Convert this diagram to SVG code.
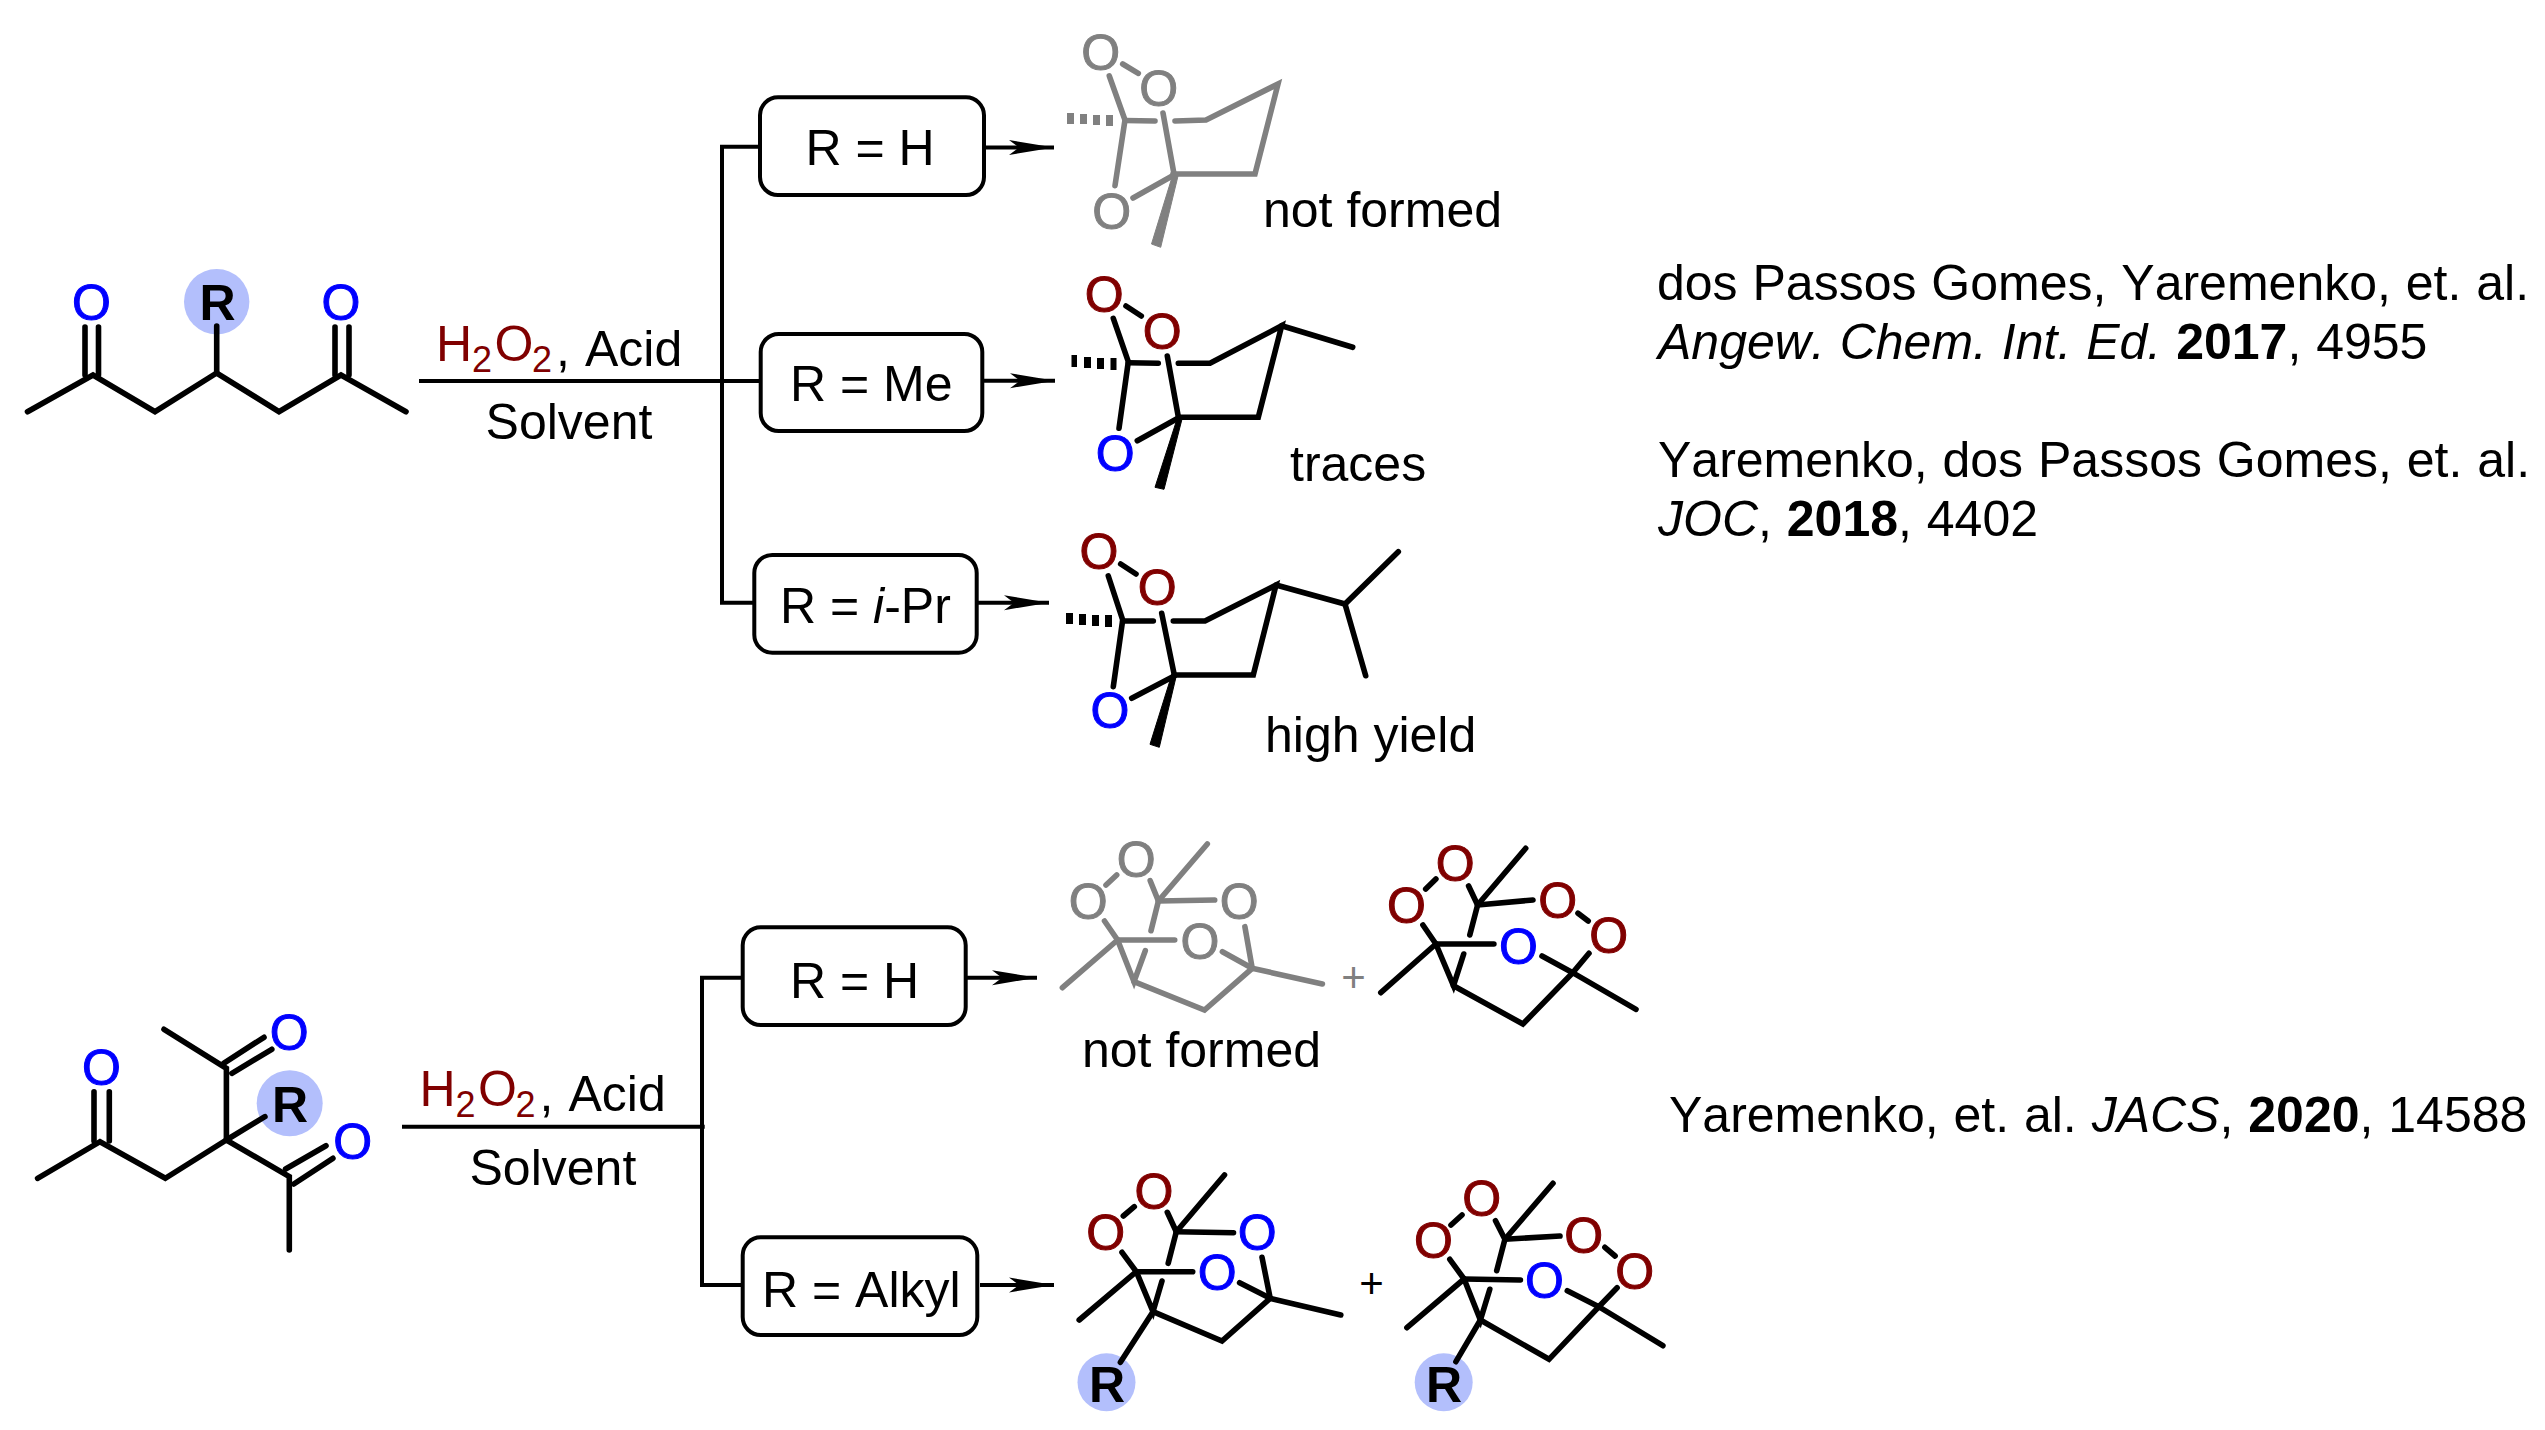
<svg xmlns="http://www.w3.org/2000/svg" width="2545" height="1430" viewBox="0 0 2545 1430">
<style>
text{font-family:"Liberation Sans",Arial,sans-serif;font-size:50px;fill:#000;font-kerning:none}
.bk line,.bk polyline,.gr line,.gr polyline{fill:none;stroke-width:5.6;stroke-linecap:round;stroke-linejoin:miter}
.bk line,.bk polyline{stroke:#000}
.gr line,.gr polyline{stroke:#808080}
.bk polygon,.bk rect{fill:#000}
.gr polygon,.gr rect{fill:#808080}
.bk polygon{stroke:#000;stroke-width:1}
.gr polygon{stroke:#808080;stroke-width:1}
.O{text-anchor:middle;stroke-width:1}
.blue{fill:#0000ff;stroke:#0000ff}
.red{fill:#800000;stroke:#800000}
.gy{fill:#808080;stroke:#808080}
.R{text-anchor:middle;font-weight:700}
.halo{fill:#b3bffc}
.sub{font-size:36px}
.dr{fill:#800000}
.box{fill:#fff;stroke:#000;stroke-width:4}
.wire{fill:none;stroke:#000;stroke-width:4}
.c{text-anchor:middle}
#citations text{word-spacing:1px}
</style>
<defs>
<marker id="head" markerUnits="userSpaceOnUse" markerWidth="46" markerHeight="16" refX="45" refY="8" orient="auto">
<path d="M0 0.5L45 8L0 15.5L10 8Z" fill="#000"/>
</marker>
</defs>

<g id="connectors">
<path class="wire" d="M419 381H722"/>
<path class="wire" d="M760 146.700H722V602.700H755"/>
<path class="wire" d="M722 381H761"/>
<path class="wire" marker-end="url(#head)" d="M984 147.500H1054"/>
<path class="wire" marker-end="url(#head)" d="M983 380.700H1055"/>
<path class="wire" marker-end="url(#head)" d="M978 602.700H1049"/>
<path class="wire" d="M402 1126.700H704.700"/>
<path class="wire" d="M743 977.700H702V1285H743"/>
<path class="wire" marker-end="url(#head)" d="M967 977.700H1037"/>
<path class="wire" marker-end="url(#head)" d="M980 1285H1054"/>
</g>

<g id="substrate1" class="bk">
<circle class="halo" cx="216.700" cy="301.700" r="32.700"/>
<polyline points="27.500,411.700 93,375 155,411.700 216.700,373 279,411.700 341,375 406,411.700"/>
<line x1="85" y1="327" x2="85" y2="375"/><line x1="98.500" y1="327" x2="98.500" y2="375"/>
<line x1="335" y1="327" x2="335" y2="375"/><line x1="349" y1="327" x2="349" y2="375"/>
<line x1="216.700" y1="373" x2="216.700" y2="326"/>
<text class="O blue" x="91.500" y="320.300">O</text>
<text class="O blue" x="341" y="320.300">O</text>
<text class="R" x="217.500" y="319.500">R</text>
</g>

<g id="reagents1">
<text y="360.700"><tspan class="dr" x="436">H</tspan><tspan class="sub dr" x="472" dy="11">2</tspan><tspan class="dr" x="494.500" dy="-11">O</tspan><tspan class="sub dr" x="532" dy="11">2</tspan><tspan x="556" dy="-6">, </tspan><tspan x="585">Acid</tspan></text>
<text x="485.600" y="439">Solvent</text>
</g>

<g id="box-r-h-1"><rect class="box" x="760" y="97.300" width="224" height="97.700" rx="18"/><text x="805.500" y="165">R = H</text></g>
<g id="box-r-me"><rect class="box" x="760.700" y="334" width="221.600" height="97" rx="18"/><text x="790" y="401">R = Me</text></g>
<g id="box-r-ipr"><rect class="box" x="754.300" y="555" width="222.400" height="97.700" rx="18"/><text x="780" y="622.700">R = <tspan font-style="italic">i</tspan>-Pr</text></g>

<g id="product-not-formed-1" class="gr">
<line x1="1122.700" y1="64" x2="1138.300" y2="73.300"/>
<polyline points="1109.300,76 1125,120 1115,185.700"/>
<line x1="1125" y1="120.500" x2="1155" y2="121"/>
<polyline points="1175,121 1206,120 1278,84 1255,174 1173,174"/>
<line x1="1163" y1="113" x2="1174" y2="174"/>
<line x1="1174" y1="175" x2="1133" y2="198"/>
<rect x="1067" y="113" width="7" height="11"/><rect x="1080" y="114" width="7" height="10"/><rect x="1093" y="115" width="7" height="10"/><rect x="1106" y="115" width="7" height="11"/>
<polygon points="1173,174 1178,176 1160.700,247.300 1151.500,244"/>
<text class="O gy" x="1100.700" y="69.700">O</text>
<text class="O gy" x="1158.700" y="106">O</text>
<text class="O gy" x="1111.700" y="228.700">O</text>
</g>
<text id="label-not-formed-1" x="1263" y="227">not formed</text>

<g id="product-traces" class="bk">
<line x1="1126" y1="306" x2="1141.300" y2="316"/>
<polyline points="1113.300,318.300 1128.300,361.700 1119,428.300"/>
<line x1="1128.300" y1="362.700" x2="1158.300" y2="363.300"/>
<polyline points="1178.300,363.300 1210,363.300 1281.700,325.700 1258.300,417.300 1180,417.300"/>
<line x1="1281.700" y1="325.700" x2="1352.700" y2="347.300"/>
<line x1="1167.300" y1="356" x2="1178.300" y2="416.700"/>
<line x1="1178.300" y1="418" x2="1137.300" y2="440.700"/>
<rect x="1071.500" y="355" width="5.500" height="12"/><rect x="1084" y="357" width="7" height="11"/><rect x="1097" y="358" width="7" height="11"/><rect x="1110.500" y="358" width="6" height="12"/>
<polygon points="1178,416 1182,419 1164,489.300 1155,487.300"/>
<text class="O red" x="1104.300" y="312">O</text>
<text class="O red" x="1162.300" y="348.700">O</text>
<text class="O blue" x="1115.300" y="470.700">O</text>
</g>
<text id="label-traces" x="1290" y="480.500">traces</text>

<g id="product-high-yield" class="bk">
<line x1="1120.700" y1="564" x2="1136" y2="574"/>
<polyline points="1108.300,576 1122.700,620 1113.300,686.700"/>
<line x1="1122.700" y1="621" x2="1153.300" y2="621"/>
<polyline points="1173.300,621 1205,621 1276,585 1253.300,675 1174.300,675"/>
<polyline points="1276,585 1345,604 1398.300,551.700"/>
<line x1="1345" y1="604" x2="1365.700" y2="675.700"/>
<line x1="1161.700" y1="613.300" x2="1174.300" y2="675"/>
<line x1="1174.300" y1="676" x2="1131.700" y2="698.300"/>
<rect x="1066" y="613" width="7" height="11"/><rect x="1079" y="614" width="7" height="11"/><rect x="1092" y="615" width="7" height="11"/><rect x="1105" y="615" width="7" height="12"/>
<polygon points="1172,674 1176,677 1159.300,747.300 1150,744.300"/>
<text class="O red" x="1099" y="569.300">O</text>
<text class="O red" x="1157.300" y="605.300">O</text>
<text class="O blue" x="1110" y="728">O</text>
</g>
<text id="label-high-yield" x="1265" y="751.700">high yield</text>

<g id="citations">
<text x="1657" y="300">dos Passos Gomes, Yaremenko, et. al.</text>
<text x="1658" y="358.800"><tspan font-style="italic">Angew. Chem. Int. Ed.</tspan> <tspan font-weight="700">2017</tspan>, 4955</text>
<text x="1658" y="476.700">Yaremenko, dos Passos Gomes, et. al.</text>
<text x="1658" y="536"><tspan font-style="italic">JOC</tspan>, <tspan font-weight="700">2018</tspan>, 4402</text>
<text x="1669" y="1131.700">Yaremenko, et. al. <tspan font-style="italic">JACS</tspan>, <tspan font-weight="700">2020</tspan>, 14588</text>
</g>

<g id="substrate2" class="bk">
<circle class="halo" cx="289.700" cy="1103.300" r="33"/>
<polyline points="37.600,1178.300 100,1141.700 165.300,1178.300 226.400,1140 289.300,1176.700 289.300,1250"/>
<line x1="94" y1="1091.700" x2="94" y2="1141"/><line x1="109.300" y1="1091.700" x2="109.300" y2="1141"/>
<polyline points="226.400,1140 226.400,1068.300 164,1029.300"/>
<line x1="223.600" y1="1063.300" x2="264" y2="1037.300"/><line x1="231.900" y1="1073.300" x2="271.800" y2="1049.300"/>
<line x1="226.400" y1="1140" x2="264.900" y2="1116.700"/>
<line x1="285.600" y1="1169" x2="326" y2="1145.700"/><line x1="293.800" y1="1184" x2="332.900" y2="1158.300"/>
<text class="O blue" x="101.500" y="1085.300">O</text>
<text class="O blue" x="289.300" y="1049.700">O</text>
<text class="O blue" x="352.600" y="1158.700">O</text>
<text class="R" x="290" y="1121.700">R</text>
</g>

<g id="reagents2">
<text y="1106"><tspan class="dr" x="419.500">H</tspan><tspan class="sub dr" x="455.500" dy="11">2</tspan><tspan class="dr" x="478" dy="-11">O</tspan><tspan class="sub dr" x="515.500" dy="11">2</tspan><tspan x="539.500" dy="-6">, </tspan><tspan x="568.500">Acid</tspan></text>
<text x="469.500" y="1184.500">Solvent</text>
</g>

<g id="box-r-h-2"><rect class="box" x="742.700" y="927.300" width="223" height="97.700" rx="18"/><text x="790" y="998.300">R = H</text></g>
<g id="box-r-alkyl"><rect class="box" x="742.700" y="1237.300" width="234.600" height="97.700" rx="18"/><text x="762" y="1306.700">R = Alkyl</text></g>

<g id="product-not-formed-2" class="gr">
<line x1="1106" y1="885" x2="1116.700" y2="875"/>
<polyline points="1207.300,844 1158.400,901 1151,930.700"/>
<line x1="1150.200" y1="880.700" x2="1158.400" y2="901"/>
<line x1="1158.400" y1="901" x2="1214.700" y2="900"/>
<line x1="1104.500" y1="921" x2="1117.600" y2="940"/>
<line x1="1117.600" y1="940" x2="1174.700" y2="940"/>
<line x1="1117.600" y1="940" x2="1062.400" y2="987.700"/>
<polyline points="1117.600,940 1134,981.700 1145.300,950.700"/>
<polyline points="1134,981.700 1204.500,1010 1252.200,968.300 1322.400,984"/>
<line x1="1252.200" y1="968.300" x2="1222.400" y2="951.700"/>
<line x1="1252.200" y1="968.300" x2="1244.900" y2="926.700"/>
<text class="O gy" x="1088.200" y="919">O</text>
<text class="O gy" x="1136.300" y="876.700">O</text>
<text class="O gy" x="1239.200" y="919">O</text>
<text class="O gy" x="1200" y="959">O</text>
</g>
<text id="plus-1" x="1353.500" y="991.500" class="c" style="font-size:42px;fill:#808080">+</text>
<text id="label-not-formed-2" x="1082" y="1067">not formed</text>

<g id="product-2b" class="bk">
<line x1="1425.700" y1="889" x2="1435.900" y2="879"/>
<line x1="1578" y1="913.300" x2="1588.200" y2="921"/>
<polyline points="1525.700,848.300 1477.600,905 1469.800,935"/>
<line x1="1468.600" y1="886" x2="1477.600" y2="905"/>
<line x1="1477.600" y1="905" x2="1533" y2="900"/>
<line x1="1422.900" y1="925" x2="1435.900" y2="944"/>
<line x1="1435.900" y1="944" x2="1493.900" y2="944"/>
<line x1="1435.900" y1="944" x2="1380.800" y2="992.700"/>
<polyline points="1435.900,944 1453.500,985.700 1463.700,954"/>
<polyline points="1453.500,985.700 1522.900,1024 1572.700,972.700 1636,1009.300"/>
<line x1="1572.700" y1="972.700" x2="1542" y2="956"/>
<line x1="1572.700" y1="972.700" x2="1589" y2="953.300"/>
<text class="O red" x="1406.500" y="923">O</text>
<text class="O red" x="1455.100" y="881.300">O</text>
<text class="O red" x="1557.600" y="918">O</text>
<text class="O red" x="1608.600" y="953">O</text>
<text class="O blue" x="1518.400" y="963.700">O</text>
</g>

<g id="product-3a" class="bk">
<circle class="halo" cx="1106.500" cy="1382.300" r="29"/>
<line x1="1123.300" y1="1216" x2="1134.300" y2="1206.700"/>
<polyline points="1224.500,1175 1176.300,1231.700 1168.200,1263.300"/>
<line x1="1167.300" y1="1212.300" x2="1176.300" y2="1231.700"/>
<line x1="1176.300" y1="1231.700" x2="1233.500" y2="1232.700"/>
<line x1="1122" y1="1252.300" x2="1136.300" y2="1271.700"/>
<line x1="1136.300" y1="1271.700" x2="1192.700" y2="1271.700"/>
<line x1="1136.300" y1="1271.700" x2="1079.200" y2="1320"/>
<polyline points="1136.300,1271.700 1153,1311.700 1162,1281"/>
<polyline points="1153,1311.700 1222,1341 1270.200,1298.300 1340.800,1315"/>
<line x1="1153" y1="1311.700" x2="1120.400" y2="1362.300"/>
<line x1="1270.200" y1="1298.300" x2="1239.600" y2="1282.700"/>
<line x1="1270.200" y1="1298.300" x2="1262" y2="1257.300"/>
<text class="O red" x="1105.700" y="1250.300">O</text>
<text class="O red" x="1153.900" y="1208.700">O</text>
<text class="O blue" x="1257.100" y="1250.300">O</text>
<text class="O blue" x="1217.100" y="1290.300">O</text>
<text class="R" x="1107" y="1401.500">R</text>
</g>
<text id="plus-2" x="1371.400" y="1298.200" class="c" style="font-size:42px">+</text>

<g id="product-3b" class="bk">
<circle class="halo" cx="1443.700" cy="1382.300" r="29"/>
<line x1="1451" y1="1225" x2="1462" y2="1215"/>
<line x1="1604.900" y1="1247.300" x2="1615.100" y2="1256"/>
<polyline points="1553,1183.300 1504.900,1239.300 1496.700,1270.700"/>
<line x1="1495.500" y1="1220.700" x2="1504.900" y2="1239.300"/>
<line x1="1504.900" y1="1239.300" x2="1560" y2="1236"/>
<line x1="1449.800" y1="1259.300" x2="1464.100" y2="1279"/>
<line x1="1464.100" y1="1279" x2="1520.400" y2="1280"/>
<line x1="1464.100" y1="1279" x2="1406.900" y2="1327.700"/>
<polyline points="1464.100,1279 1480.400,1320 1489.800,1289.300"/>
<polyline points="1480.400,1320 1549,1359.300 1598.800,1306.700 1662.900,1345.700"/>
<line x1="1480.400" y1="1320" x2="1455.900" y2="1361.700"/>
<line x1="1598.800" y1="1306.700" x2="1567.300" y2="1290.700"/>
<line x1="1598.800" y1="1306.700" x2="1617.100" y2="1287.700"/>
<text class="O red" x="1433.500" y="1258">O</text>
<text class="O red" x="1481.600" y="1216.300">O</text>
<text class="O red" x="1583.700" y="1253">O</text>
<text class="O red" x="1634.700" y="1288.700">O</text>
<text class="O blue" x="1544.500" y="1298">O</text>
<text class="R" x="1444" y="1401.500">R</text>
</g>
</svg>
